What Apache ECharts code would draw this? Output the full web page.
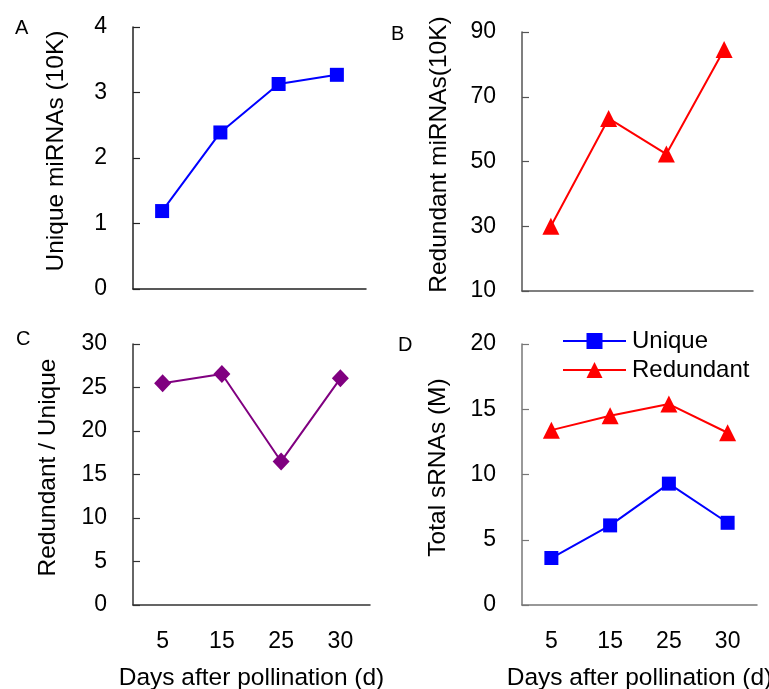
<!DOCTYPE html>
<html>
<head>
<meta charset="utf-8">
<script src="https://cdn.jsdelivr.net/npm/echarts@6/dist/echarts.min.js"></script>
<style>
    html, body { margin: 0; padding: 0; background: #fff; }
    #main { width: 769px; height: 689px; }
</style>
</head>
<body>
<div id="main"></div>
<script>
    "use strict";

    // 授粉后天数
    var days = ['5', '15', '25', '30'];
    // A 独特 miRNA (10K)
    var uniqueMirna = [1.19, 2.39, 3.13, 3.27];
    // B 冗余 miRNA (10K)
    var redundantMirna = [30, 63.3, 52.3, 84.6];
    // C 冗余/独特
    var ratio = [25.5, 26.55, 16.5, 26.05];
    // D 总 sRNA (M)
    var totalUnique = [3.6, 6.1, 9.3, 6.3];
    var totalRedundant = [13.4, 14.5, 15.4, 13.2];

    var font = 'Liberation Sans';

    function xAxis(idx, color, showLabel) {
        return {
            type: 'category',
            gridIndex: idx,
            data: days,
            boundaryGap: true,
            axisLine: { lineStyle: { color: color, width: 1.5 } },
            axisTick: { inside: true, length: 8, lineStyle: { color: color, width: 1.2 } },
            axisLabel: { show: showLabel, margin: 25, fontSize: 23, color: '#000', fontFamily: font },
            name: showLabel ? 'Days after pollination (d)' : '',
            nameLocation: 'middle',
            nameGap: 61,
            nameTextStyle: { fontSize: 24.5, color: '#000', fontFamily: font },
            splitLine: { show: false }
        };
    }

    function yAxis(idx, color, name, min, max, interval, gap) {
        return {
            type: 'value',
            gridIndex: idx,
            min: min,
            max: max,
            interval: interval,
            name: name,
            nameLocation: 'middle',
            nameGap: gap,
            nameRotate: 90,
            nameTextStyle: { fontSize: 24.5, color: '#000', fontFamily: font, padding: [0, 0, 0, 14] },
            axisLine: { show: true, lineStyle: { color: color, width: 1.5 } },
            axisTick: { show: true, inside: true, length: 7, lineStyle: { color: color, width: 1.2 } },
            axisLabel: { margin: 26, fontSize: 23, color: '#000', fontFamily: font },
            splitLine: { show: false }
        };
    }

    function line(name, idx, data, color, symbol, size) {
        return {
            name: name,
            type: 'line',
            xAxisIndex: idx,
            yAxisIndex: idx,
            data: data,
            symbol: symbol,
            symbolSize: size,
            showAllSymbol: true,
            lineStyle: { color: color, width: 2 },
            itemStyle: { color: color },
            animation: false
        };
    }

    var chart = echarts.init(document.getElementById('main'));
    var option = {
        backgroundColor: '#fff',
        animation: false,
        title: [
            { text: 'A', left: 10, top: 13 },
            { text: 'B', left: 386, top: 19 },
            { text: 'C', left: 11, top: 324 },
            { text: 'D', left: 393, top: 330 }
        ].map(function (t) {
            t.textStyle = { fontSize: 20, fontWeight: 'normal', color: '#000', fontFamily: font };
            return t;
        }),
        legend: {
            data: ['Unique', 'Redundant'],
            orient: 'vertical',
            left: 557,
            top: 324,
            itemWidth: 63,
            itemHeight: 20,
            itemGap: 5,
            textStyle: { fontSize: 24, color: '#000', fontFamily: font, padding: [0, 0, 0, 1] }
        },
        // v6 默认会把轴名称挤进画布, 这里关掉
        grid: [
            { left: 133, right: 403, top: 27, bottom: 400, outerBoundsMode: 'none' },
            { left: 522, right: 16, top: 32, bottom: 398, outerBoundsMode: 'none' },
            { left: 133, right: 399, top: 344, bottom: 84, outerBoundsMode: 'none' },
            { left: 522, right: 12, top: 344, bottom: 84, outerBoundsMode: 'none' }
        ],
        xAxis: [
            xAxis(0, '#222', false),
            xAxis(1, '#555', false),
            xAxis(2, '#333', true),
            xAxis(3, '#777', true)
        ],
        yAxis: [
            yAxis(0, '#222', 'Unique miRNAs (10K)', 0, 4, 1, 64),
            yAxis(1, '#555', 'Redundant miRNAs(10K)', 10, 90, 20, 70),
            yAxis(2, '#333', 'Redundant / Unique', 0, 30, 5, 72),
            yAxis(3, '#777', 'Total sRNAs (M)', 0, 20, 5, 71)
        ],
        series: [
            line('Unique miRNAs', 0, uniqueMirna, '#0000ff', 'rect', 14),
            line('Redundant miRNAs', 1, redundantMirna, '#ff0000', 'triangle', 17),
            line('Ratio', 2, ratio, '#800080', 'diamond', [17, 18]),
            line('Unique', 3, totalUnique, '#0000ff', 'rect', 14),
            line('Redundant', 3, totalRedundant, '#ff0000', 'triangle', 17)
        ]
    };
    chart.setOption(option);
</script>
</body>
</html>
